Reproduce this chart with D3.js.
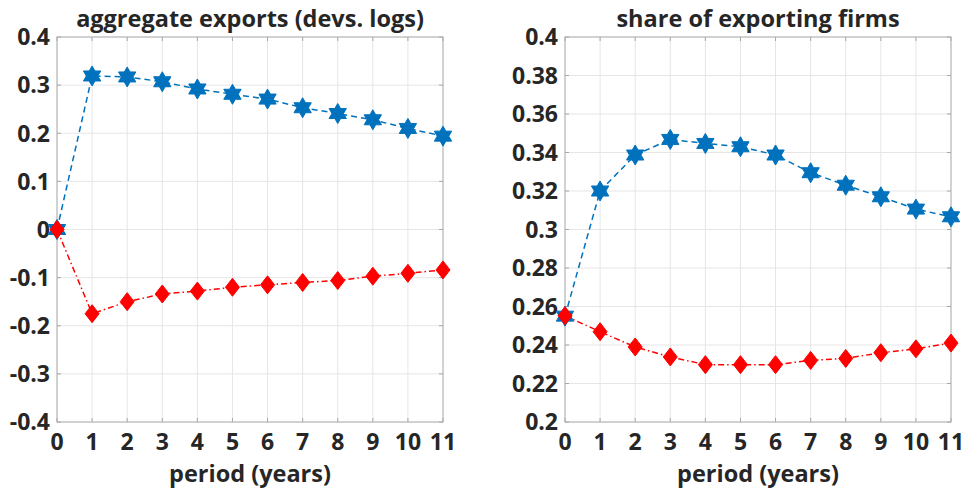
<!DOCTYPE html>
<html>
<head>
<meta charset="utf-8">
<script src="https://cdn.jsdelivr.net/npm/d3@7"></script>
<style>
  body { margin: 0; background: #fff; }
  text { font-family: "Open Sans", Lato, sans-serif; font-weight: bold; fill: #262626; }
</style>
</head>
<body>
<svg id="chart" width="965" height="491"></svg>
<script>
// periods on the x axis
const periods = [0, 1, 2, 3, 4, 5, 6, 7, 8, 9, 10, 11]

// left panel: aggregate exports (devs. logs)
const exportsBlue = [0, 0.319, 0.317, 0.307, 0.292, 0.281, 0.271, 0.253, 0.241, 0.228, 0.210, 0.194]
const exportsRed = [0, -0.175, -0.150, -0.134, -0.128, -0.120, -0.115, -0.110, -0.106, -0.097, -0.091, -0.084]
const exportsTicks = [-0.4, -0.3, -0.2, -0.1, 0, 0.1, 0.2, 0.3, 0.4]

// right panel: share of exporting firms
const shareBlue = [0.255, 0.320, 0.3387, 0.3468, 0.3447, 0.343, 0.3387, 0.3295, 0.323, 0.317, 0.3106, 0.3066]
const shareRed = [0.2552, 0.2469, 0.239, 0.2338, 0.2298, 0.2298, 0.2298, 0.232, 0.233, 0.236, 0.238, 0.241]
const shareTicks = [0.2, 0.22, 0.24, 0.26, 0.28, 0.3, 0.32, 0.34, 0.36, 0.38, 0.4]

const svg = d3.select('#chart')
const blue = '#0072bd'
const red = '#ff0000'

/**
 * hexagram path centred on 0,0
 * @param {number} r - outer radius
 * @returns {string} path
 */
const hexagram = (r) => {
  const pts = d3.range(12).map((i) => {
    const a = -Math.PI / 2 + i * Math.PI / 6
    const rad = i % 2 === 0 ? r : r / Math.sqrt(3)
    return [rad * Math.cos(a), rad * Math.sin(a)]
  })
  return 'M' + pts.map((p) => p.join(',')).join('L') + 'Z'
}

const diamond = (w, h) => `M0,${-h}L${w},0L0,${h}L${-w},0Z`

/**
 * draw one panel
 */
const drawPanel = (opts) => {
  const { left, right, top, bottom, title, domain, ticks, fmt, blueData, redData } = opts
  const g = svg.append('g')
  const x = d3.scaleLinear().domain([0, 11]).range([left, right])
  const y = d3.scaleLinear().domain(domain).range([bottom, top])

  // grid
  g.selectAll('.gx').data(periods).enter().append('line')
    .attr('x1', (d) => x(d)).attr('x2', (d) => x(d))
    .attr('y1', top).attr('y2', bottom)
    .attr('stroke', '#e6e6e6').attr('stroke-width', 1)
  g.selectAll('.gy').data(ticks).enter().append('line')
    .attr('x1', left).attr('x2', right)
    .attr('y1', (d) => y(d)).attr('y2', (d) => y(d))
    .attr('stroke', '#e6e6e6').attr('stroke-width', 1)

  // inner tick marks on all sides
  const tl = 4
  periods.forEach((d) => {
    g.append('line').attr('x1', x(d)).attr('x2', x(d)).attr('y1', bottom).attr('y2', bottom - tl).attr('stroke', '#a6a6a6')
    g.append('line').attr('x1', x(d)).attr('x2', x(d)).attr('y1', top).attr('y2', top + tl).attr('stroke', '#a6a6a6')
  })
  ticks.forEach((d) => {
    g.append('line').attr('x1', left).attr('x2', left + tl).attr('y1', y(d)).attr('y2', y(d)).attr('stroke', '#a6a6a6')
    g.append('line').attr('x1', right).attr('x2', right - tl).attr('y1', y(d)).attr('y2', y(d)).attr('stroke', '#a6a6a6')
  })

  // box
  g.append('rect').attr('x', left).attr('y', top)
    .attr('width', right - left).attr('height', bottom - top)
    .attr('fill', 'none').attr('stroke', '#b0b0b0').attr('stroke-width', 1)

  // tick labels
  g.selectAll('.yl').data(ticks).enter().append('text')
    .attr('x', left - 7).attr('y', (d) => y(d)).attr('dy', '0.36em')
    .attr('text-anchor', 'end').attr('font-size', 23)
    .text(fmt)
  g.selectAll('.xl').data(periods).enter().append('text')
    .attr('x', (d) => x(d)).attr('y', bottom + 28)
    .attr('text-anchor', 'middle').attr('font-size', 23)
    .text((d) => d)

  // titles
  g.append('text').attr('x', (left + right) / 2).attr('y', 27)
    .attr('text-anchor', 'middle').attr('font-size', 23.5).text(title)
  g.append('text').attr('x', (left + right) / 2).attr('y', 482)
    .attr('text-anchor', 'middle').attr('font-size', 23.5).text('period (years)')

  const line = d3.line().x((d, i) => x(periods[i])).y((d) => y(d))

  // blue series
  g.append('path').attr('d', line(blueData)).attr('fill', 'none')
    .attr('stroke', blue).attr('stroke-width', 1.5).attr('stroke-dasharray', '6,4')
  g.selectAll('.star').data(blueData).enter().append('path')
    .attr('d', hexagram(10))
    .attr('transform', (d, i) => `translate(${x(periods[i])},${y(d)})`)
    .attr('fill', blue).attr('stroke', blue).attr('stroke-width', 1)

  // red series
  g.append('path').attr('d', line(redData)).attr('fill', 'none')
    .attr('stroke', red).attr('stroke-width', 1.5).attr('stroke-dasharray', '6,3,1.5,3')
  g.selectAll('.dia').data(redData).enter().append('path')
    .attr('d', diamond(7, 9))
    .attr('transform', (d, i) => `translate(${x(periods[i])},${y(d)})`)
    .attr('fill', red).attr('stroke', red).attr('stroke-width', 1)
}

drawPanel({
  left: 57, right: 443, top: 37, bottom: 422,
  title: 'aggregate exports (devs. logs)',
  domain: [-0.4, 0.4], ticks: exportsTicks,
  fmt: (d) => d === 0 ? '0' : d3.format('.1f')(d).replace('−', '-'),
  blueData: exportsBlue, redData: exportsRed
})

drawPanel({
  left: 565, right: 951, top: 37, bottom: 422,
  title: 'share of exporting firms',
  domain: [0.2, 0.4], ticks: shareTicks,
  fmt: (d) => String(+d.toFixed(2)),
  blueData: shareBlue, redData: shareRed
})
</script>
</body>
</html>
